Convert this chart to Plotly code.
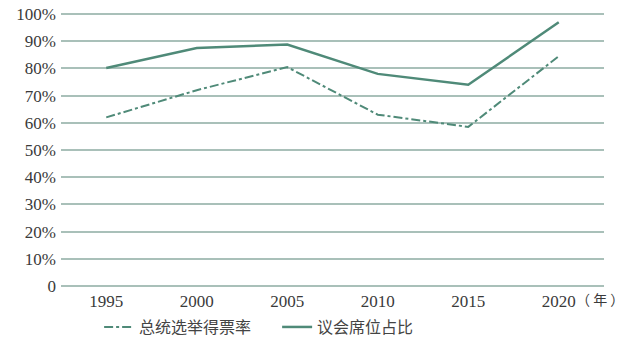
import plotly.graph_objects as go

years = ["1995", "2000", "2005", "2010", "2015", "2020"]
vote_share = [62, 72, 80.5, 63, 58.5, 84.5]
seat_share = [80.2, 87.5, 88.8, 78, 74, 97]
y_ticks = [0, 10, 20, 30, 40, 50, 60, 70, 80, 90, 100]
y_tick_text = ["0", "10%", "20%", "30%", "40%", "50%", "60%", "70%", "80%", "90%", "100%"]

line_color = "#4f8a78"
grid_color = "#a9c0b9"
serif = "Liberation Serif"
cjk = "Noto Sans CJK SC"

fig = go.Figure()
fig.add_trace(go.Scatter(x=years, y=vote_share, mode="lines", name="总统选举得票率",
                         line=dict(color=line_color, width=2, dash="dashdot")))
fig.add_trace(go.Scatter(x=years, y=seat_share, mode="lines", name="议会席位占比",
                         line=dict(color=line_color, width=2.5)))

fig.update_layout(
    width=640, height=359,
    margin=dict(l=61, r=36, t=13, b=72),
    paper_bgcolor="white", plot_bgcolor="white",
    showlegend=True,
    legend=dict(orientation="h", x=0.433, xref="container", xanchor="center",
                y=0.089, yref="container", yanchor="middle",
                font=dict(family=cjk, size=16, color="#444444"),
                entrywidth=133, entrywidthmode="pixels", tracegroupgap=0),
    xaxis=dict(type="category", range=[-0.5, 5.5], showgrid=False, zeroline=False,
               showline=False, ticks="", automargin=False,
               tickfont=dict(family=serif, size=17, color="#3a3a3a"),
               ticklabelstandoff=2),
    yaxis=dict(range=[-0.4, 100.4], tickvals=y_ticks, ticktext=y_tick_text,
               showgrid=True, gridcolor=grid_color, gridwidth=1.5, automargin=False,
               zeroline=False, showline=False, ticks="", ticklabelstandoff=4,
               tickfont=dict(family=serif, size=17, color="#3a3a3a")),
)
fig.add_annotation(x=5, xref="x", y=0, yref="y", yshift=-13,
                   xanchor="left", yanchor="middle", xshift=15,
                   text="（ 年 ）", showarrow=False,
                   font=dict(family=cjk, size=14, color="#3a3a3a"))
fig.write_html("out.html", post_script="document.body.style.margin='0';",
               config={"displayModeBar": False})
